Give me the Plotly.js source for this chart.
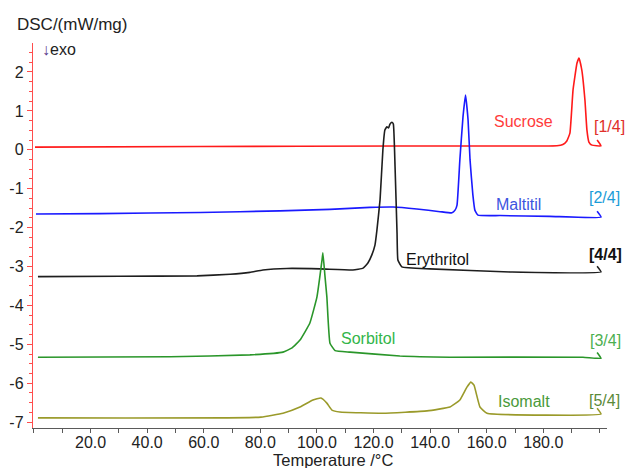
<!DOCTYPE html>
<html>
<head>
<meta charset="utf-8">
<script src="https://cdn.plot.ly/plotly-3.0.1.min.js"></script>
<style>html,body{margin:0;padding:0;background:#fff;}#chart{width:625px;height:468px;}</style>
</head>
<body>
<div id="chart"></div>
<script>
// ---- Data (Temperature in °C, DSC in mW/mg) ----
const sucroseT = [0.35, 58.7, 129.3, 184.8, 186.9, 188.3, 189.4, 190.5, 191.9, 192.6, 193.6, 194.7, 195.4, 196.1, 197.2, 200.4, 199.0];
const sucroseV = [0.07, 0.085, 0.098, 0.105, 0.136, 0.226, 0.43, 1.54, 2.23, 2.36, 2.05, 1.28, 0.51, 0.20, 0.12, 0.10, 0.25];

const maltitilT = [0.7, 23.3, 58.7, 86.9, 104.6, 118.7, 126.9, 135.3, 143.5, 147.7, 148.8, 149.5, 150.5, 151.6, 152.5, 153.4, 154.1, 155.1, 155.8, 156.9, 164.7, 182.3, 200.4, 199.0];
const maltitilV = [-1.65, -1.64, -1.61, -1.57, -1.53, -1.48, -1.47, -1.52, -1.59, -1.62, -1.55, -1.42, -0.26, 0.84, 1.41, 0.77, -0.26, -1.16, -1.55, -1.68, -1.69, -1.71, -1.73, -1.58];

const erythritolT = [1.4, 30.4, 57.6, 69.3, 76.3, 80.9, 89.4, 101.1, 112.7, 116.3, 118.0, 119.4, 120.5, 121.2, 122.3, 123.3, 124.0, 124.7, 125.3, 125.8, 126.5, 127.0, 127.6, 128.3, 128.6, 130.0, 139.9, 168.2, 200.4, 199.0];
const erythritolV = [-3.26, -3.25, -3.24, -3.20, -3.15, -3.09, -3.05, -3.06, -3.09, -3.04, -2.91, -2.70, -2.45, -2.06, -1.28, 0.0, 0.51, 0.59, 0.56, 0.66, 0.71, 0.66, -0.44, -2.14, -2.83, -3.01, -3.06, -3.14, -3.14, -2.99];

const sorbitolT = [1.4, 48.1, 76.3, 88.0, 91.2, 94.0, 97.5, 100.0, 101.8, 102.1, 102.8, 103.5, 104.6, 106.4, 111.7, 129.3, 147.0, 194.0, 200.4, 199.0];
const sorbitolV = [-5.33, -5.32, -5.27, -5.20, -5.09, -4.89, -4.45, -3.78, -2.83, -2.65, -3.22, -3.78, -4.97, -5.16, -5.20, -5.30, -5.33, -5.33, -5.36, -5.21];

const isomaltT = [1.4, 80.2, 88.0, 94.0, 98.6, 101.4, 103.5, 105.3, 108.1, 123.3, 138.9, 147.0, 150.5, 153.0, 154.4, 155.5, 157.6, 160.1, 200.4, 199.0];
const isomaltV = [-6.89, -6.87, -6.77, -6.61, -6.43, -6.38, -6.51, -6.69, -6.74, -6.77, -6.71, -6.61, -6.43, -6.10, -5.97, -6.05, -6.61, -6.77, -6.79, -6.64];

const yTickVals = [-7, -6, -5, -4, -3, -2, -1, 0, 1, 2];
const yTickText = ['-7', '-6', '-5', '-4', '-3', '-2', '-1', '0', '1', '2'];
const xTickVals = [20, 40, 60, 80, 100, 120, 140, 160, 180];
const xTickText = ['20.0', '40.0', '60.0', '80.0', '100.0', '120.0', '140.0', '160.0', '180.0'];

const seriesNames = ['Sucrose', 'Maltitil', 'Erythritol', 'Sorbitol', 'Isomalt'];
const seriesTags = ['[1/4]', '[2/4]', '[4/4]', '[3/4]', '[5/4]'];

const FONT = 'Liberation Sans, Arial, sans-serif';

function line(x, y, color, name) {
  return {x: x, y: y, type: 'scatter', mode: 'lines', name: name,
          line: {color: color, width: 1.6, shape: 'spline', smoothing: 0.35},
          hoverinfo: 'skip'};
}

const traces = [
  line(sucroseT, sucroseV, '#ff1a1a', seriesNames[0]),
  line(maltitilT, maltitilV, '#1a1aff', seriesNames[1]),
  line(erythritolT, erythritolV, '#1e1e1e', seriesNames[2]),
  line(sorbitolT, sorbitolV, '#2a962a', seriesNames[3]),
  line(isomaltT, isomaltV, '#9a9a2a', seriesNames[4])
];

const L = 33, R = 18, T = 43, B = 40, W = 625, H = 468;

// text placed by pixel position (converted to paper fractions)
function ptext(px, py, text, color, size, anchor) {
  return {x: (px - L) / (W - L - R), y: (H - B - py) / (H - T - B), xref: 'paper', yref: 'paper',
          xanchor: anchor || 'center', yanchor: 'middle', text: text, showarrow: false,
          font: {family: FONT, size: size || 16, color: color}};
}

const annotations = [
  ptext(523, 122, seriesNames[0], '#ff3b3b'),
  ptext(609, 127, seriesTags[0], '#e0302a'),
  ptext(518, 204, seriesNames[1], '#3d55e0'),
  ptext(604, 197, seriesTags[1], '#1a9cd8'),
  ptext(437, 259, seriesNames[2], '#111111'),
  ptext(605, 255, '<b>' + seriesTags[2] + '</b>', '#111111'),
  ptext(368, 338, seriesNames[3], '#33b54a'),
  ptext(605, 340, seriesTags[3], '#4caf50'),
  ptext(524, 401, seriesNames[4], '#4a9a3a'),
  ptext(604, 400, seriesTags[4], '#5a8a3a'),
  ptext(15, 24, 'DSC/(mW/mg)', '#222', 17, 'left'),
  ptext(40, 49, '<span style="color:#5a3a8a">↓</span>exo', '#222', 16, 'left'),
  ptext(333, 460, 'Temperature /°C', '#222', 16.5)
];

const layout = {
  width: W, height: H,
  margin: {l: L, r: R, t: T, b: B, pad: 0},
  paper_bgcolor: '#ffffff', plot_bgcolor: '#ffffff',
  showlegend: false,
  font: {family: FONT, size: 16, color: '#222'},
  xaxis: {
    range: [-0.35, 202.5], showgrid: false, zeroline: false,
    showline: true, linecolor: '#5a5a5a', linewidth: 1.2,
    ticks: '', tickmode: 'array', tickvals: xTickVals, ticktext: xTickText,
    tickfont: {family: FONT, size: 16, color: '#222'},
    minor: {tick0: 0, dtick: 10, ticks: 'outside', ticklen: 4, tickcolor: '#5a5a5a', tickwidth: 1, showgrid: false}
  },
  yaxis: {
    range: [-7.15, 2.745], showgrid: false, zeroline: false,
    showline: true, linecolor: '#ff4d4d', linewidth: 1.2,
    ticks: 'outside', ticklen: 5, tickcolor: '#ff4d4d', tickwidth: 1,
    tickmode: 'array', tickvals: yTickVals, ticktext: yTickText,
    tickfont: {family: FONT, size: 16, color: '#222'},
    minor: {tick0: 0, dtick: 0.25, ticks: 'outside', ticklen: 3, tickcolor: '#ff4d4d', tickwidth: 1, showgrid: false}
  },
  annotations: annotations
};

Plotly.newPlot('chart', traces, layout, {staticPlot: true, displayModeBar: false});
</script>
</body>
</html>
